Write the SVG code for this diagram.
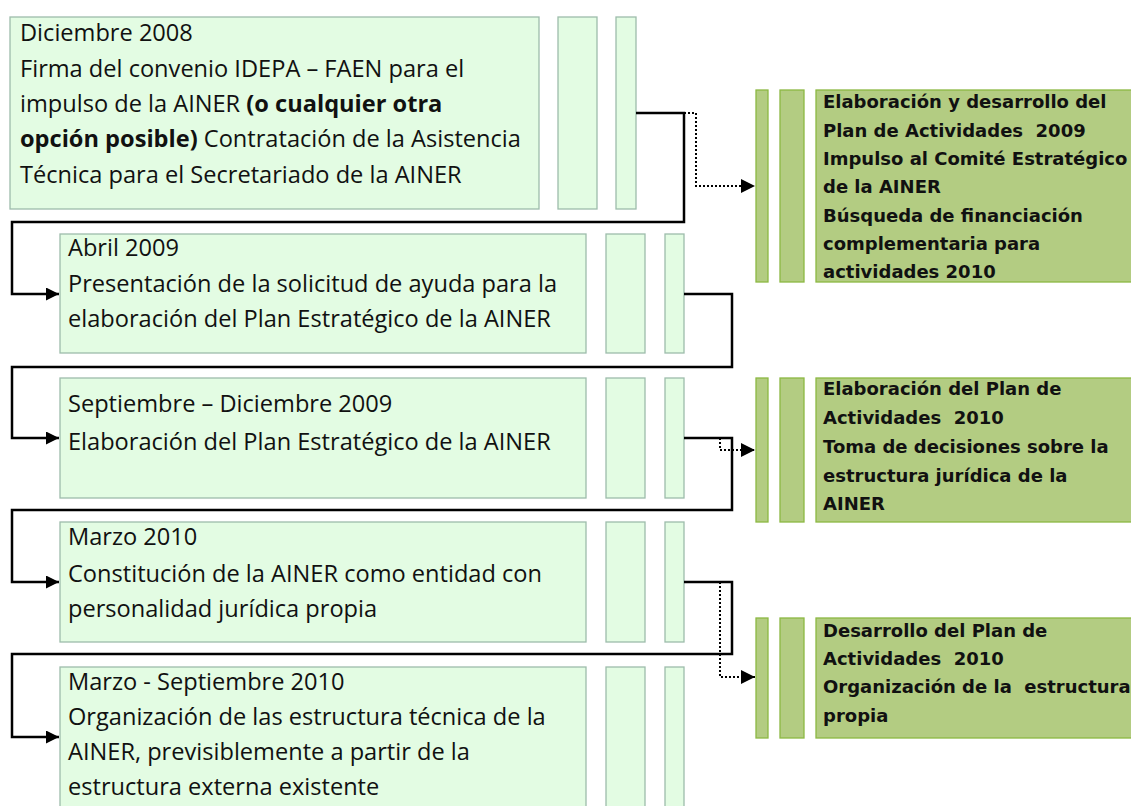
<svg xmlns="http://www.w3.org/2000/svg" width="1131" height="806" viewBox="0 0 1131 806">
<style>
.lb{fill:#e3fce3;stroke:#9dbcab;stroke-width:1.3}
.rb{fill:#b3cc82;stroke:#8cb842;stroke-width:1.3}
.t{font-family:"Open Sans",Lato,sans-serif;font-size:23.6px;fill:#111}
.b{font-weight:bold}
.rt{font-family:"DejaVu Sans","Open Sans",sans-serif;font-size:18px;font-weight:bold;fill:#111}
.c{fill:none;stroke:#000;stroke-width:2.5}
.d{fill:none;stroke:#000;stroke-width:2;stroke-dasharray:2 2}
</style>
<defs>
<marker id="ah" viewBox="0 0 10 10" refX="10" refY="5" markerWidth="6" markerHeight="5.2" markerUnits="strokeWidth" orient="auto"><path d="M0,0 L10,5 L0,10 z" fill="#000"/></marker>
<marker id="ahd" viewBox="0 0 10 10" refX="10" refY="5" markerWidth="8" markerHeight="7" markerUnits="strokeWidth" orient="auto"><path d="M0,0 L10,5 L0,10 z" fill="#000"/></marker>
</defs>
<rect width="1131" height="806" fill="#fff"/>
<g id="node1">
<rect class="lb" x="10" y="17" width="529" height="192"/>
<rect class="lb" x="558" y="17" width="39" height="192"/>
<rect class="lb" x="616" y="17" width="20" height="192"/>
<text class="t" x="20" y="41">Diciembre 2008</text>
<text class="t" x="20" y="77">Firma del convenio IDEPA – FAEN para el</text>
<text class="t" x="20" y="112">impulso de la AINER <tspan class="b">(o cualquier otra</tspan></text>
<text class="t" x="20" y="147"><tspan class="b">opción posible)</tspan> Contratación de la Asistencia</text>
<text class="t" x="20" y="183">Técnica para el Secretariado de la AINER</text>
</g>
<g id="node2">
<rect class="lb" x="60" y="234" width="526" height="119"/>
<rect class="lb" x="606" y="234" width="39" height="119"/>
<rect class="lb" x="665" y="234" width="19" height="119"/>
<text class="t" x="68" y="256">Abril 2009</text>
<text class="t" x="68" y="292">Presentación de la solicitud de ayuda para la</text>
<text class="t" x="68" y="327">elaboración del Plan Estratégico de la AINER</text>
</g>
<g id="node3">
<rect class="lb" x="60" y="378" width="526" height="120"/>
<rect class="lb" x="606" y="378" width="39" height="120"/>
<rect class="lb" x="665" y="378" width="19" height="120"/>
<text class="t" x="68" y="412">Septiembre – Diciembre 2009</text>
<text class="t" x="68" y="450">Elaboración del Plan Estratégico de la AINER</text>
</g>
<g id="node4">
<rect class="lb" x="60" y="522" width="526" height="120"/>
<rect class="lb" x="606" y="522" width="39" height="120"/>
<rect class="lb" x="665" y="522" width="19" height="120"/>
<text class="t" x="68" y="545">Marzo 2010</text>
<text class="t" x="68" y="582">Constitución de la AINER como entidad con</text>
<text class="t" x="68" y="617">personalidad jurídica propia</text>
</g>
<g id="node5">
<rect class="lb" x="60" y="667" width="526" height="150"/>
<rect class="lb" x="606" y="667" width="39" height="150"/>
<rect class="lb" x="665" y="667" width="19" height="150"/>
<text class="t" x="68" y="690">Marzo - Septiembre 2010</text>
<text class="t" x="68" y="725">Organización de las estructura técnica de la</text>
<text class="t" x="68" y="760">AINER, previsiblemente a partir de la</text>
<text class="t" x="68" y="795">estructura externa existente</text>
</g>
<g id="side1">
<rect class="rb" x="756" y="90" width="12" height="192"/>
<rect class="rb" x="780" y="90" width="24" height="192"/>
<rect class="rb" x="816" y="90" width="320" height="192"/>
<text class="rt" x="823" y="108">Elaboración y desarrollo del</text>
<text class="rt" x="823" y="137" xml:space="preserve">Plan de Actividades  2009</text>
<text class="rt" x="823" y="165">Impulso al Comité Estratégico</text>
<text class="rt" x="823" y="193">de la AINER</text>
<text class="rt" x="823" y="222">Búsqueda de financiación</text>
<text class="rt" x="823" y="250">complementaria para</text>
<text class="rt" x="823" y="278">actividades 2010</text>
</g>
<g id="side2">
<rect class="rb" x="756" y="378" width="12" height="144"/>
<rect class="rb" x="780" y="378" width="24" height="144"/>
<rect class="rb" x="816" y="378" width="320" height="144"/>
<text class="rt" x="823" y="395">Elaboración del Plan de</text>
<text class="rt" x="823" y="424" xml:space="preserve">Actividades  2010</text>
<text class="rt" x="823" y="453">Toma de decisiones sobre la</text>
<text class="rt" x="823" y="482">estructura jurídica de la</text>
<text class="rt" x="823" y="510">AINER</text>
</g>
<g id="side3">
<rect class="rb" x="756" y="618" width="12" height="120"/>
<rect class="rb" x="780" y="618" width="24" height="120"/>
<rect class="rb" x="816" y="618" width="320" height="120"/>
<text class="rt" x="823" y="637">Desarrollo del Plan de</text>
<text class="rt" x="823" y="665" xml:space="preserve">Actividades  2010</text>
<text class="rt" x="823" y="693" xml:space="preserve">Organización de la  estructura</text>
<text class="rt" x="823" y="722">propia</text>
</g>
<g id="connectors">
<path class="c" d="M636,113 H684 V222 H12 V294 H59" marker-end="url(#ah)"/>
<path class="c" d="M684,294 H732 V367 H12 V438 H59" marker-end="url(#ah)"/>
<path class="c" d="M684,438 H732 V510 H12 V582 H59" marker-end="url(#ah)"/>
<path class="c" d="M684,582 H732 V654 H12 V737 H59" marker-end="url(#ah)"/>
<path class="d" d="M684,113 H696 V186 H755" marker-end="url(#ahd)"/>
<path class="d" d="M684,438 H720 V450 H755" marker-end="url(#ahd)"/>
<path class="d" d="M684,582 H720 V677 H755" marker-end="url(#ahd)"/>
</g>
</svg>
